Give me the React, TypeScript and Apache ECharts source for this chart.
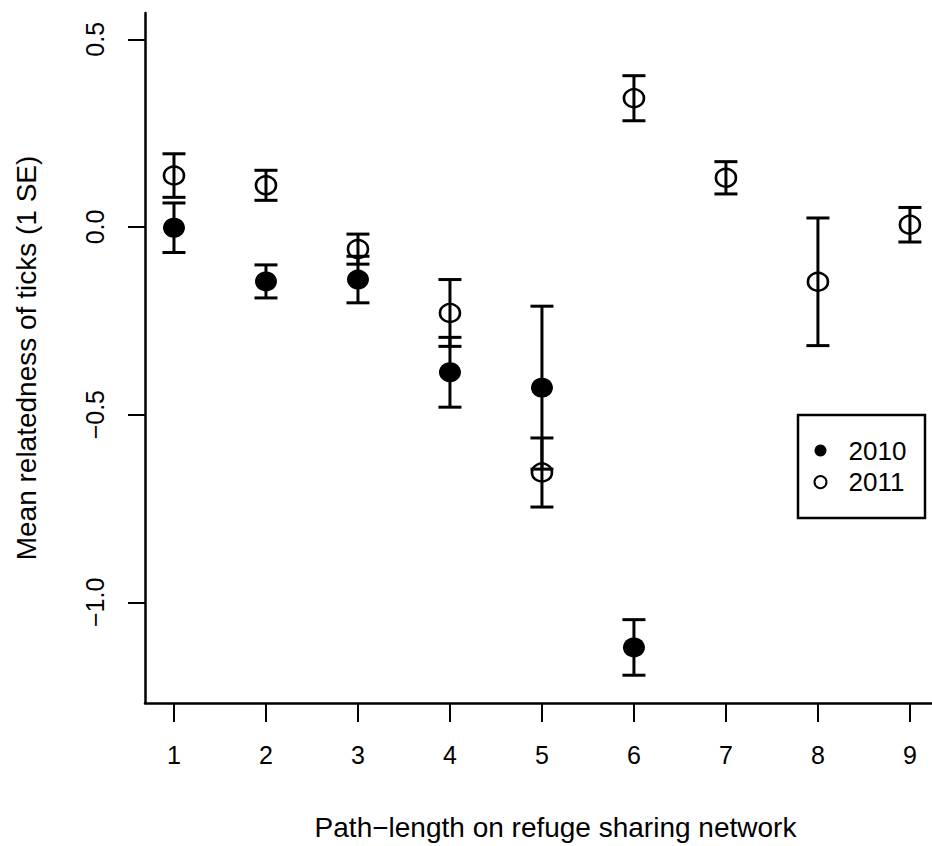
import React, { useEffect, useRef } from 'react';
import * as echarts from 'echarts';

// ---- data ----
const seriesNames = ['2010', '2011'];

const pathLength2010 = [1, 2, 3, 4, 5, 6];
const mean2010 = [-0.002, -0.145, -0.14, -0.387, -0.428, -1.12];
const se2010 = [0.066, 0.044, 0.062, 0.093, 0.217, 0.074];

const pathLength2011 = [1, 2, 3, 4, 5, 6, 7, 8, 9];
const mean2011 = [0.137, 0.111, -0.059, -0.229, -0.654, 0.343, 0.131, -0.146, 0.006];
const se2011 = [0.058, 0.04, 0.04, 0.089, 0.092, 0.06, 0.043, 0.17, 0.046];

const xTicks = [1, 2, 3, 4, 5, 6, 7, 8, 9];
const yTicks = [-1, -0.5, 0, 0.5];
const yTickLabels = ['\u22121.0', '\u22120.5', '0.0', '0.5'];

const xAxisTitle = 'Path\u2212length on refuge sharing network';
const yAxisTitle = 'Mean relatedness of ticks (1 SE)';

const FONT = '"Liberation Sans", Arial, Helvetica, sans-serif';

function errorData(xs: number[], means: number[], ses: number[]) {
  return xs.map((x, i) => [x, means[i] - ses[i], means[i] + ses[i]]);
}
function pointData(xs: number[], means: number[]) {
  return xs.map((x, i) => [x, means[i]]);
}

const renderErrorBar = (params: any, api: any) => {
  const x = api.value(0);
  const lo = api.coord([x, api.value(1)]);
  const hi = api.coord([x, api.value(2)]);
  const hw = 11.5;
  const style = { stroke: '#000', lineWidth: 3, fill: 'none' };
  return {
    type: 'group',
    children: [
      { type: 'line', shape: { x1: lo[0], y1: lo[1], x2: hi[0], y2: hi[1] }, style },
      { type: 'line', shape: { x1: lo[0] - hw, y1: lo[1], x2: lo[0] + hw, y2: lo[1] }, style },
      { type: 'line', shape: { x1: hi[0] - hw, y1: hi[1], x2: hi[0] + hw, y2: hi[1] }, style },
    ],
  };
};

export default function App() {
  const ref = useRef<HTMLDivElement>(null);
  useEffect(() => {
    document.body.style.margin = '0';
    const chart = echarts.init(ref.current!, null, { renderer: 'svg' });
    const option: any = {
      animation: false,
      backgroundColor: '#ffffff',
      grid: { left: 145, right: 0, top: 13, bottom: 142, containLabel: false },
      xAxis: {
        type: 'value',
        min: 0.685,
        max: 9.24,
        name: xAxisTitle,
        nameLocation: 'middle',
        nameGap: 110,
        nameTextStyle: { fontFamily: FONT, fontSize: 28, color: '#000', padding: [0, 0, 0, 34] },
        axisLine: { show: true, onZero: false, lineStyle: { color: '#000', width: 2.5 } },
        axisTick: { show: true, length: 19, customValues: xTicks, lineStyle: { color: '#000', width: 2 } },
        axisLabel: {
          show: true,
          customValues: xTicks,
          margin: 39,
          fontFamily: FONT,
          fontSize: 25,
          color: '#000',
          formatter: (v: number) => String(v),
        },
        splitLine: { show: false },
      },
      yAxis: {
        type: 'value',
        min: -1.268,
        max: 0.57,
        name: yAxisTitle,
        nameLocation: 'middle',
        nameRotate: 90,
        nameGap: 105,
        nameTextStyle: { fontFamily: FONT, fontSize: 28, color: '#000' },
        axisLine: { show: true, onZero: false, lineStyle: { color: '#000', width: 2.5 } },
        axisTick: { show: true, length: 17, customValues: yTicks, lineStyle: { color: '#000', width: 2 } },
        axisLabel: {
          show: true,
          customValues: yTicks,
          rotate: 90,
          margin: 38,
          fontFamily: FONT,
          fontSize: 25,
          color: '#000',
          formatter: (v: number) => {
            const i = yTicks.findIndex((t) => Math.abs(t - v) < 1e-9);
            return i >= 0 ? yTickLabels[i] : '';
          },
        },
        splitLine: { show: false },
      },
      legend: {
        data: [
          { name: seriesNames[0], icon: 'circle', itemStyle: { color: '#000', borderWidth: 0 } },
          { name: seriesNames[1], icon: 'circle', itemStyle: { color: '#fff', borderColor: '#000', borderWidth: 2 } },
        ],
        orient: 'vertical',
        left: 813.5,
        top: 437.5,
        padding: 0,
        itemWidth: 46,
        itemHeight: 12,
        itemGap: 5.6,
        textStyle: { fontFamily: FONT, fontSize: 26, lineHeight: 26, color: '#000' },
        selectedMode: false,
      },
      graphic: [
        {
          type: 'rect',
          shape: { x: 798, y: 415, width: 127, height: 103 },
          style: { fill: 'none', stroke: '#000', lineWidth: 2.5 },
          silent: true,
        },
      ],
      series: [
        {
          type: 'custom',
          name: seriesNames[0] + ' SE',
          renderItem: renderErrorBar,
          encode: { x: 0, y: [1, 2] },
          data: errorData(pathLength2010, mean2010, se2010),
          z: 2,
        },
        {
          type: 'custom',
          name: seriesNames[1] + ' SE',
          renderItem: renderErrorBar,
          encode: { x: 0, y: [1, 2] },
          data: errorData(pathLength2011, mean2011, se2011),
          z: 2,
        },
        {
          type: 'scatter',
          name: seriesNames[0],
          symbol: 'circle',
          symbolSize: [22, 20],
          itemStyle: { color: '#000', opacity: 1 },
          data: pointData(pathLength2010, mean2010),
          z: 3,
        },
        {
          type: 'scatter',
          name: seriesNames[1],
          symbol: 'circle',
          symbolSize: [20, 18],
          itemStyle: { color: 'rgba(0,0,0,0)', borderColor: '#000', borderWidth: 2.5, opacity: 1 },
          data: pointData(pathLength2011, mean2011),
          z: 3,
        },
      ],
    };
    chart.setOption(option);
    return () => chart.dispose();
  }, []);
  return <div ref={ref} style={{ width: 932, height: 846 }} />;
}
